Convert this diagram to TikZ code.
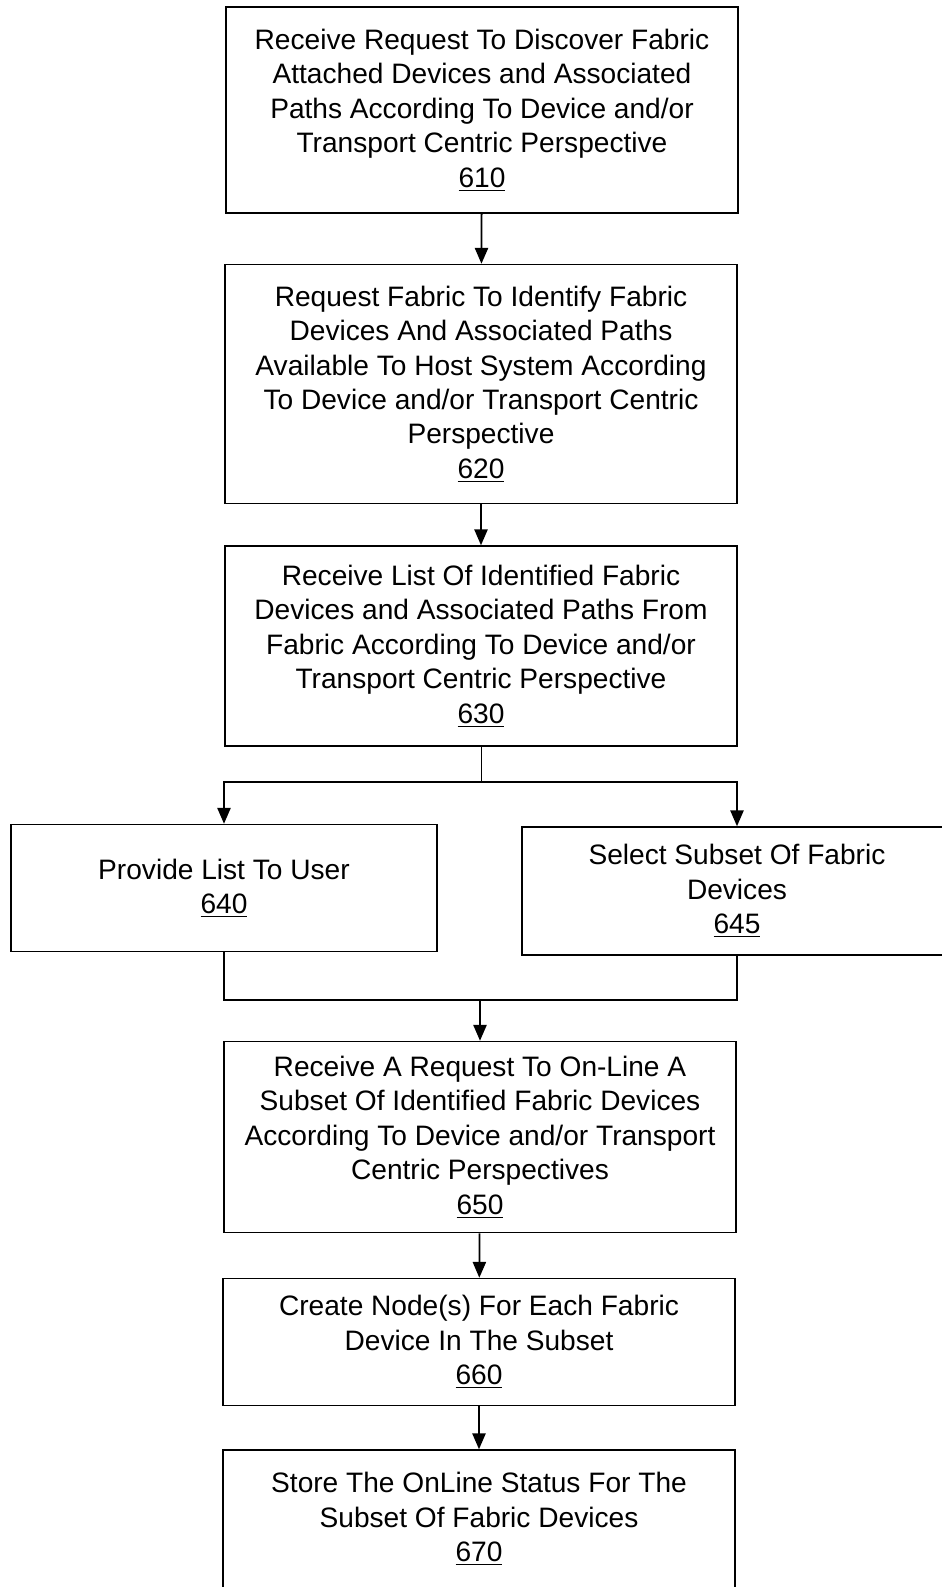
\documentclass[tikz,border=0pt]{standalone}
\usepackage{fontspec}
\setmainfont{Liberation Sans}
\usetikzlibrary{arrows.meta,positioning}

\begin{document}
\begin{tikzpicture}[
    x=0.02cm, y=0.02cm,
    stepbox/.style={draw, line width=0.9pt, minimum width=10.24cm, inner sep=0pt, align=center, font=\fontsize{16}{19.6}\selectfont},
    flow/.style={-{Triangle[length=9pt,width=7.5pt]}, line width=1pt}
]
\useasboundingbox (0,0) rectangle (942,-1587);

% Discovery steps
\node[stepbox, minimum height=4.12cm] (receive) at (482,-110) {Receive Request To Discover Fabric\\Attached Devices and Associated\\Paths According To Device and/or\\Transport Centric Perspective\\\underline{610}};
\node[stepbox, minimum height=4.78cm] (request) at (481,-384) {Request Fabric To Identify Fabric\\Devices And Associated Paths\\Available To Host System According\\To Device and/or Transport Centric\\Perspective\\\underline{620}};
\node[stepbox, minimum height=4.0cm] (listrx) at (481,-646) {Receive List Of Identified Fabric\\Devices and Associated Paths From\\Fabric According To Device and/or\\Transport Centric Perspective\\\underline{630}};

% Branch
\node[stepbox, minimum width=8.52cm, minimum height=2.54cm] (provide) at (224,-888) {Provide List To User\\\underline{640}};
\node[stepbox, minimum width=8.6cm, minimum height=2.56cm] (select) at (737,-891) {Select Subset Of Fabric\\Devices\\\underline{645}};

% On-line steps
\node[stepbox, minimum height=3.82cm] (online) at (480,-1137) {Receive A Request To On-Line A\\Subset Of Identified Fabric Devices\\According To Device and/or Transport\\Centric Perspectives\\\underline{650}};
\node[stepbox, minimum height=2.54cm] (create) at (479,-1342) {Create Node(s) For Each Fabric\\Device In The Subset\\\underline{660}};
\node[stepbox, minimum height=2.76cm] (store) at (479,-1519) {Store The OnLine Status For The\\Subset Of Fabric Devices\\\underline{670}};

\coordinate (split) at (481,-782);
\coordinate (join) at (480,-1000);

% Arrows
\draw[flow] (receive) -- (request);
\draw[flow] (request) -- (listrx);
\draw[line width=0.5pt] (listrx.south) -- (split);
\draw[flow] (split) -| (provide.north);
\draw[flow] (split) -| (select.north);
\draw[line width=1pt] (provide.south) |- (join) -| (select.south);
\draw[flow] (join) -- (online);
\draw[flow] (online) -- (create);
\draw[flow] (create) -- (store);
\end{tikzpicture}
\end{document}
